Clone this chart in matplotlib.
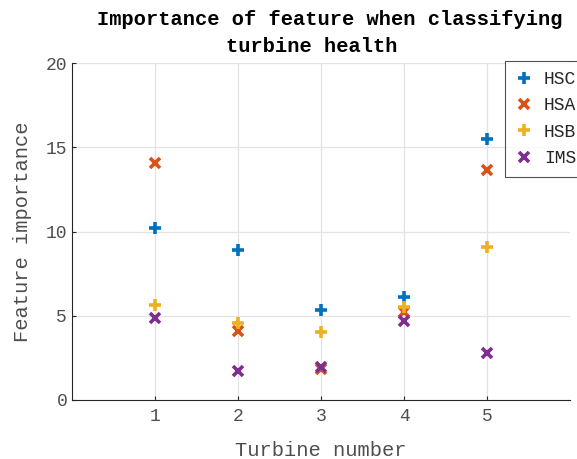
import matplotlib.pyplot as plt

# feature importance per turbine
turbines = [1, 2, 3, 4, 5]
hsc = [10.2, 8.9, 5.35, 6.1, 15.5]
hsa = [14.05, 4.1, 1.86, 5.24, 13.65]
hsb = [5.65, 4.58, 4.04, 5.5, 9.07]
ims = [4.85, 1.72, 1.95, 4.66, 2.8]

plt.rcParams['font.family'] = ['Liberation Mono', 'DejaVu Sans Mono']

fig = plt.figure(figsize=(5.77, 4.59), dpi=100)
ax = fig.add_axes([72/577, 59/459, 498/577, 337/459])

plus = dict(linestyle='none', markersize=8, markeredgewidth=2.6)
cross = dict(linestyle='none', markersize=6.5, markeredgewidth=2.6)
ax.plot(turbines, hsc, marker='+', color='#0072BD', label='HSC', **plus)
ax.plot(turbines, hsa, marker='x', color='#D95319', label='HSA', **cross)
ax.plot(turbines, hsb, marker='+', color='#EDB120', label='HSB', **plus)
ax.plot(turbines, ims, marker='x', color='#7E2F8E', label='IMS', **cross)

ax.set_xlim(0, 6)
ax.set_ylim(0, 20)
ax.set_xticks(turbines)
ax.set_yticks([0, 5, 10, 15, 20])
ax.grid(True, color='#e3e3e3', linewidth=0.9)
ax.set_axisbelow(True)
for s in ['top', 'right']:
    ax.spines[s].set_visible(False)
for s in ['left', 'bottom']:
    ax.spines[s].set_color('#262626')
    ax.spines[s].set_linewidth(0.8)
ax.tick_params(direction='in', length=3, width=0.8, colors='#262626',
               labelcolor='#4d4d4d', labelsize=13)
ax.tick_params(axis='x', pad=6)

ax.set_xlabel('Turbine number', fontsize=14.7, color='#4d4d4d', labelpad=11)
ax.set_ylabel('Feature importance', fontsize=14.7, color='#4d4d4d', labelpad=10)
ttl = ax.set_title('Importance of feature when classifying\nturbine health   ',
                   fontsize=14.7, fontweight='bold', color='black', pad=8,
                   linespacing=1.5)
ttl.set_x(0.518)

leg = fig.legend(loc='upper left', bbox_to_anchor=(505/577, 1 - 61/459),
                 fontsize=13, frameon=True, fancybox=False, borderpad=0.55,
                 labelspacing=0.52, handletextpad=0.6, handlelength=1.0,
                 borderaxespad=0)
leg.get_frame().set_edgecolor('#262626')
leg.get_frame().set_linewidth(0.8)
for t in leg.get_texts():
    t.set_color('#262626')

fig.savefig('out.png', dpi=100)
